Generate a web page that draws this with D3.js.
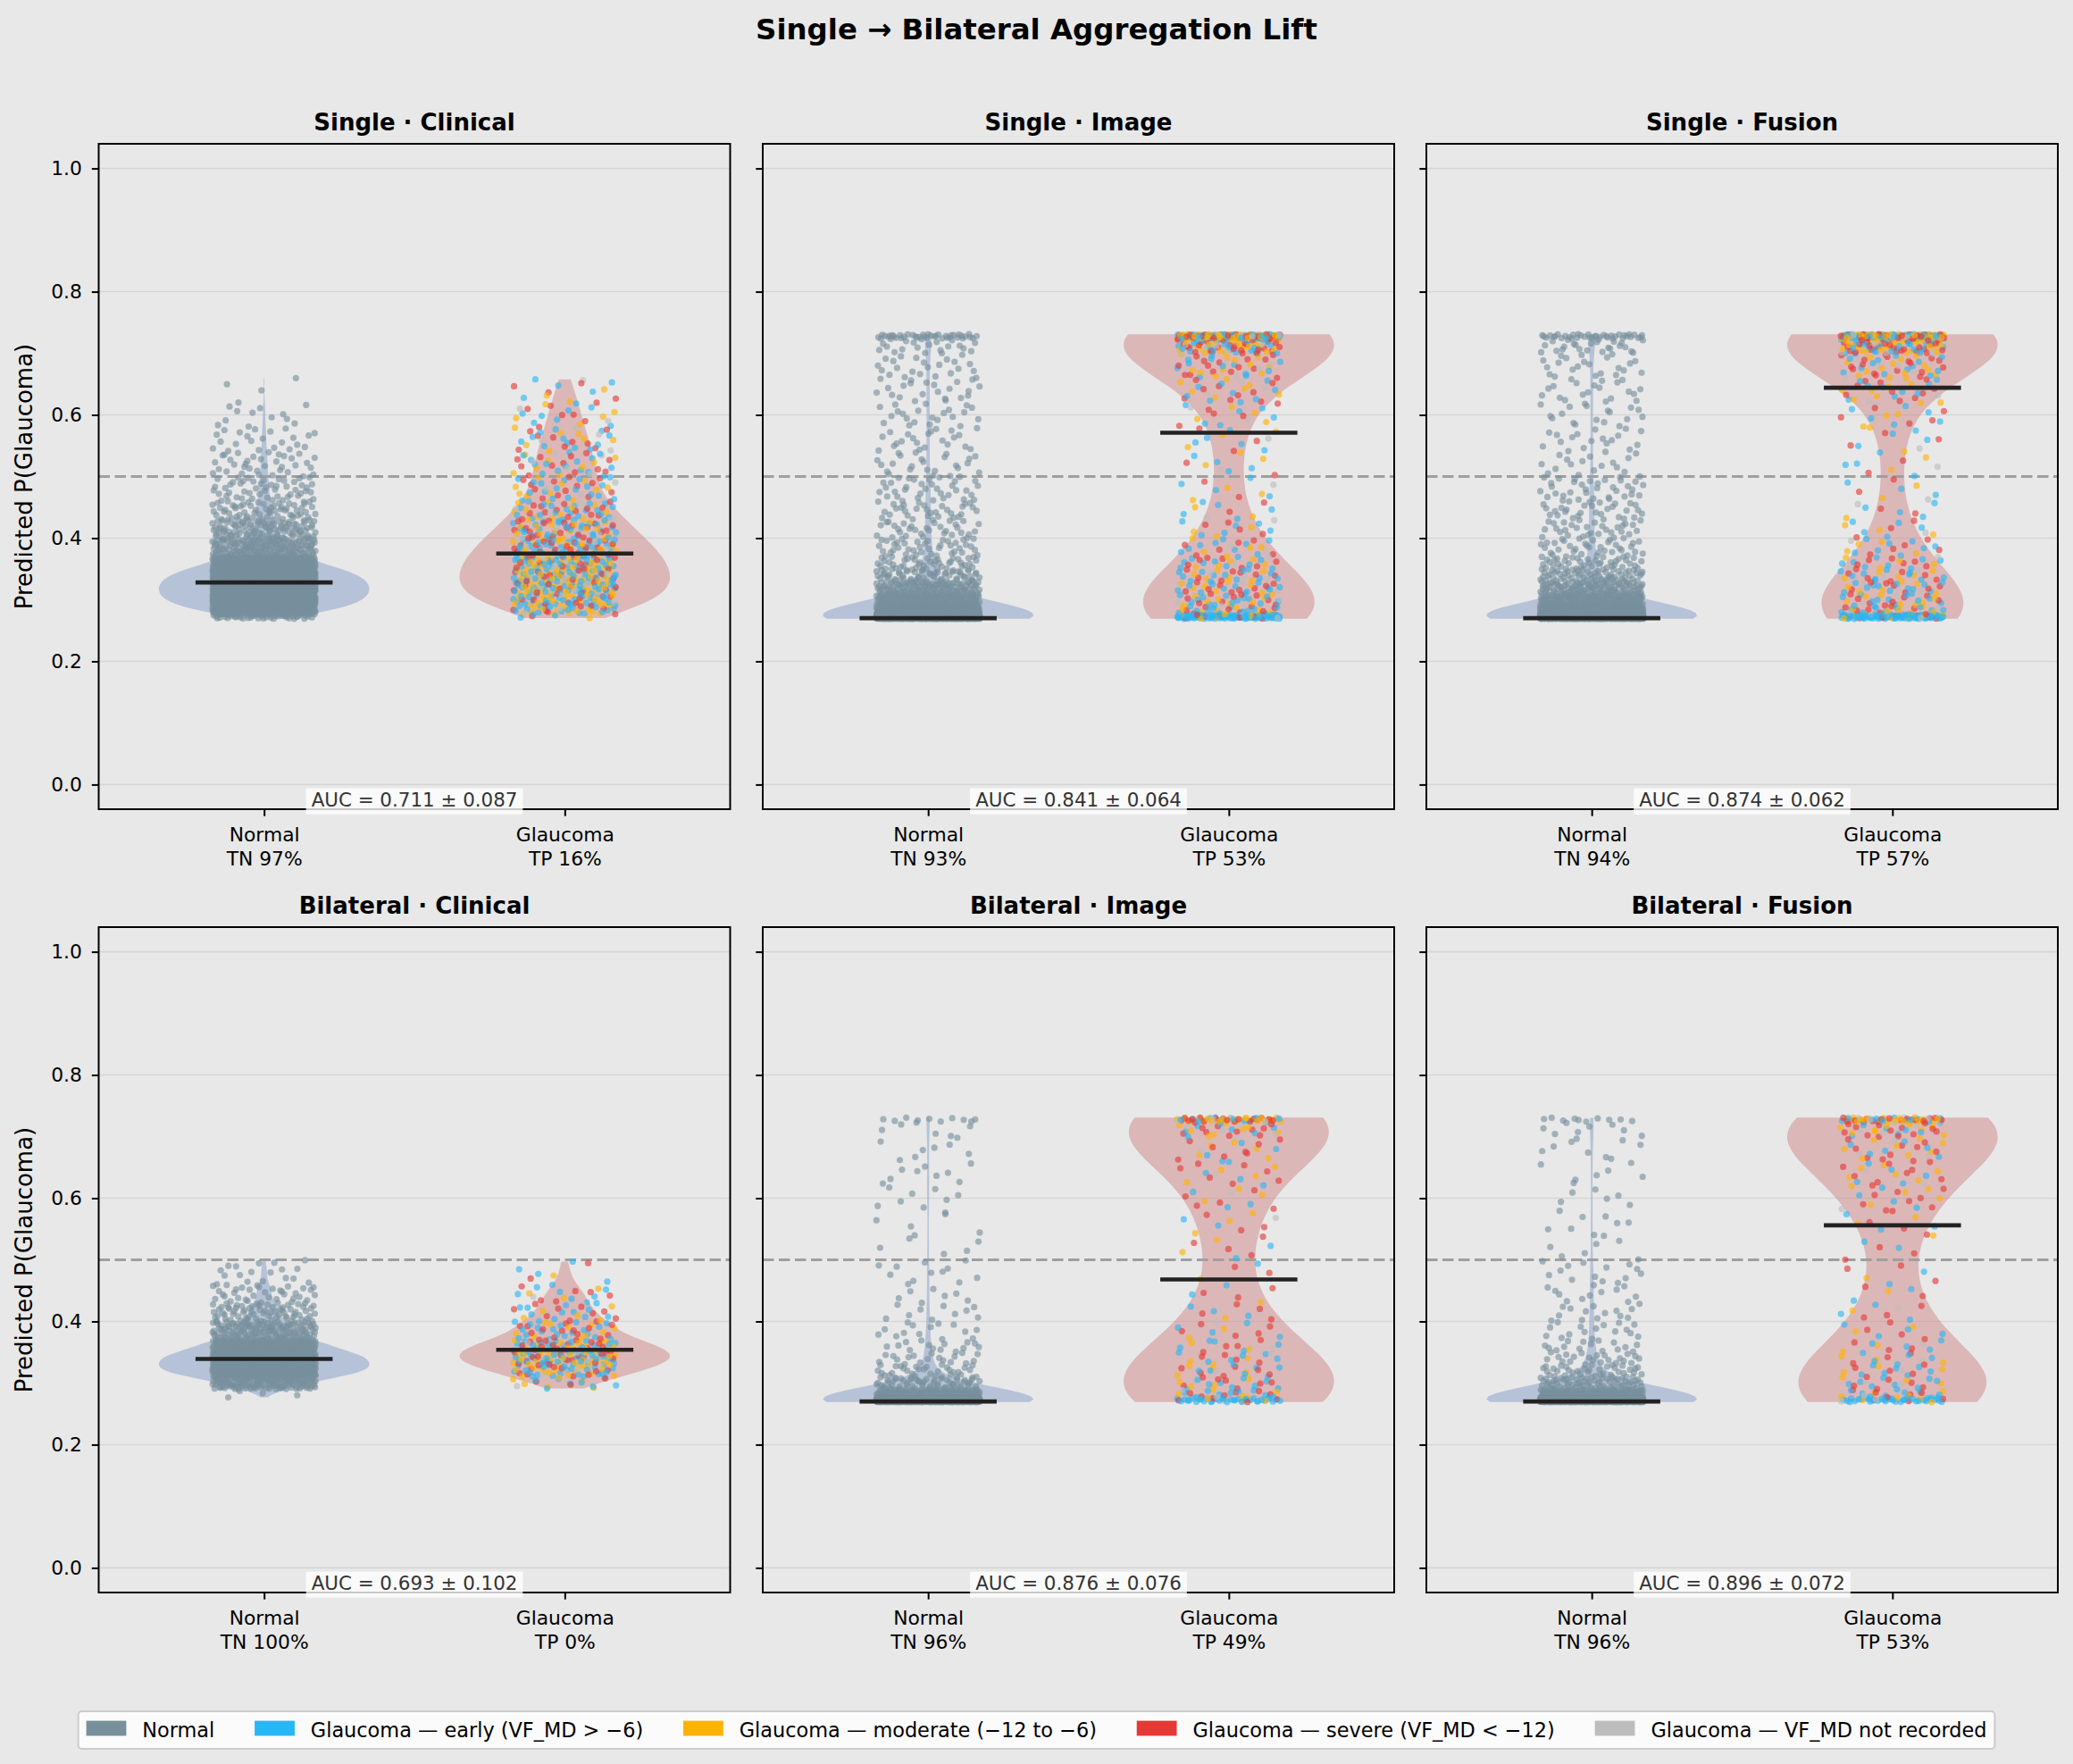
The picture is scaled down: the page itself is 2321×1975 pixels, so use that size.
<!DOCTYPE html>
<html>
<head>
<meta charset="utf-8">
<script src="https://cdn.jsdelivr.net/npm/d3@7"></script>
<style>
  body { margin: 0; background: #e8e8e8; }
  svg { display: block; font-family: "DejaVu Sans", sans-serif; }
</style>
</head>
<body>
<div id="chart"></div>
<script>
// Single -> Bilateral aggregation lift, violin + jittered points per panel

const FRAME_WIDTH = 2321;
const FRAME_HEIGHT = 1975;

// panel grid (pixels)
const COL_LEFT = [110.5, 854, 1597];
const ROW_TOP = [161, 1038];
const PANEL_W = 707;
const PANEL_H = 745;

const X_LIMITS = [-0.55, 1.55];
const Y_LIMITS = [-0.04, 1.04];

//###############################################################
// Data
//###############################################################

const SUPTITLE = "Single \u2192 Bilateral Aggregation Lift";
const PANEL_TITLES = ["Single \u00b7 Clinical", "Single \u00b7 Image", "Single \u00b7 Fusion",
                      "Bilateral \u00b7 Clinical", "Bilateral \u00b7 Image", "Bilateral \u00b7 Fusion"];
const CLASSES = ["Normal", "Glaucoma"];
const Y_TICKS = [0.0, 0.2, 0.4, 0.6, 0.8, 1.0];
const THRESHOLD = 0.5;

const TN_PCT = [97, 93, 94, 100, 96, 96];
const TP_PCT = [16, 53, 57, 0, 49, 53];
const AUC_MEAN = [0.711, 0.841, 0.874, 0.693, 0.876, 0.896];
const AUC_SD = [0.087, 0.064, 0.062, 0.102, 0.076, 0.072];

const MEDIAN_NORMAL = [0.328, 0.270, 0.270, 0.339, 0.270, 0.270];
const MEDIAN_GLAUCOMA = [0.375, 0.571, 0.644, 0.354, 0.468, 0.556];

// predicted-probability bins; first and last are the clip piles
const BIN_EDGES = [0.269, 0.276, 0.29, 0.31, 0.33, 0.35, 0.37, 0.40, 0.43, 0.46,
                   0.50, 0.54, 0.58, 0.62, 0.66, 0.70, 0.724, 0.731];

// estimated point counts per bin, one row per panel
const NORMAL_COUNTS = [
  [40, 260, 520, 540, 500, 280, 160, 100, 60, 50, 35, 22, 12, 4, 0, 0, 0],
  [1600, 280, 180, 110, 60, 40, 40, 32, 30, 35, 24, 22, 22, 22, 24, 20, 40],
  [1650, 270, 170, 100, 60, 40, 36, 30, 30, 34, 18, 18, 18, 20, 22, 24, 38],
  [0, 4, 140, 340, 340, 220, 140, 70, 35, 18, 0, 0, 0, 0, 0, 0, 0],
  [960, 130, 60, 30, 18, 14, 14, 10, 7, 12, 6, 5, 8, 9, 8, 6, 10],
  [920, 140, 65, 35, 22, 15, 16, 14, 12, 14, 7, 8, 6, 7, 9, 8, 10]
];
const EARLY_COUNTS = [
  [2, 17, 27, 31, 29, 29, 36, 28, 20, 18, 15, 12, 8, 5, 0, 0, 0],
  [96, 12, 14, 13, 12, 10, 9, 6, 5, 4, 4, 5, 6, 9, 13, 22, 48],
  [90, 11, 12, 12, 10, 8, 8, 5, 4, 3, 4, 4, 6, 9, 14, 24, 52],
  [0, 0, 8, 21, 30, 24, 20, 12, 8, 4, 0, 0, 0, 0, 0, 0, 0],
  [36, 9, 9, 7, 6, 5, 4, 3, 2, 1, 2, 2, 3, 4, 5, 7, 12],
  [34, 9, 8, 7, 5, 4, 4, 3, 2, 2, 2, 3, 4, 5, 6, 7, 12]
];
const MODERATE_COUNTS = [
  [1, 13, 21, 24, 22, 22, 20, 15, 11, 10, 8, 7, 5, 3, 0, 0, 0],
  [9, 7, 8, 7, 6, 5, 5, 3, 2, 3, 3, 3, 4, 7, 11, 20, 58],
  [9, 7, 7, 6, 5, 4, 4, 3, 1, 2, 2, 2, 4, 8, 13, 24, 62],
  [0, 0, 6, 15, 22, 15, 10, 5, 3, 1, 0, 0, 0, 0, 0, 0, 0],
  [3, 5, 4, 4, 3, 2, 2, 1, 1, 1, 2, 3, 3, 4, 5, 8, 26],
  [4, 4, 3, 3, 3, 2, 2, 1, 1, 1, 1, 2, 5, 6, 8, 10, 20]
];
const SEVERE_COUNTS = [
  [1, 6, 10, 12, 12, 12, 25, 20, 14, 13, 12, 9, 7, 4, 0, 0, 0],
  [8, 8, 9, 9, 7, 7, 6, 4, 2, 2, 2, 3, 5, 9, 16, 28, 42],
  [8, 7, 8, 7, 7, 6, 5, 3, 2, 2, 2, 3, 5, 10, 17, 30, 48],
  [0, 0, 3, 10, 16, 15, 15, 9, 6, 2, 0, 0, 0, 0, 0, 0, 0],
  [4, 6, 7, 6, 4, 4, 5, 4, 3, 2, 4, 3, 5, 7, 8, 11, 18],
  [3, 5, 5, 5, 3, 3, 4, 3, 2, 3, 3, 4, 8, 9, 11, 13, 16]
];
const UNRECORDED_COUNTS = [
  [0, 4, 7, 8, 7, 7, 9, 7, 5, 4, 5, 4, 2, 1, 0, 0, 0],
  [7, 3, 3, 3, 3, 2, 2, 1, 1, 1, 1, 1, 2, 3, 5, 10, 22],
  [7, 3, 3, 3, 2, 2, 1, 1, 1, 1, 1, 1, 2, 3, 6, 12, 24],
  [0, 0, 1, 4, 7, 6, 5, 2, 1, 0, 0, 0, 0, 0, 0, 0, 0],
  [3, 2, 2, 1, 1, 1, 1, 0, 0, 0, 0, 1, 1, 1, 2, 4, 8],
  [3, 2, 2, 1, 1, 1, 0, 1, 0, 0, 0, 0, 1, 2, 3, 4, 6]
];

const GROUPS = ["normal", "early", "moderate", "severe", "unrecorded"];
const LEGEND_LABELS = ["Normal",
                       "Glaucoma \u2014 early (VF_MD > \u22126)",
                       "Glaucoma \u2014 moderate (\u221212 to \u22126)",
                       "Glaucoma \u2014 severe (VF_MD < \u221212)",
                       "Glaucoma \u2014 VF_MD not recorded"];

// styles
const COLORS = {normal: "#78909c", early: "#29b6f6", moderate: "#ffb300",
                severe: "#e53935", unrecorded: "#bdbdbd"};
const VIOLIN_FILL = ["#8da3c9", "#cf8587"];
const VIOLIN_ALPHA = [0.55, 0.5];
const POINT_R = 3.6;
const POINT_ALPHA = 0.62;
const JITTER = 0.172;
const VIOLIN_HALF = 0.35;
const MEDIAN_HALF = 0.228;

//###############################################################
// helpers
//###############################################################

// van der Corput / Halton value, used to lay points out inside a bin
function halton(i, base) {
  let f = 1, r = 0;
  while (i > 0) {
    f /= base;
    r += f * (i % base);
    i = Math.floor(i / base);
  }
  return r;
}

function buildPoints(countRows, groupNames, seed) {
  const pts = [];
  for (let b = 0; b < BIN_EDGES.length - 1; b++) {
    const lo = BIN_EDGES[b], hi = BIN_EDGES[b + 1];
    let k = 0;
    countRows.forEach((row, gi) => {
      for (let j = 0; j < row[b]; j++) {
        const n = 1 + k + seed + b * 29;
        pts.push({ y: lo + (hi - lo) * halton(n, 2),
                   jit: halton(n, 3) * 2 - 1,
                   group: groupNames[gi] });
        k++;
      }
    });
  }
  // mix the drawing order
  return pts.map((d, i) => ({d: d, key: halton(i + 7, 5)}))
            .sort((a, b) => a.key - b.key)
            .map(o => o.d);
}

// gaussian KDE with Scott's bandwidth, 100 points from min to max
function violinProfile(values) {
  const n = values.length;
  const bw = d3.deviation(values) * Math.pow(n, -0.2);
  const [lo, hi] = d3.extent(values);
  const ys = d3.range(100).map(i => lo + (hi - lo) * i / 99);
  const dens = ys.map(y => d3.sum(values, v => Math.exp(-0.5 * ((y - v) / bw) ** 2)));
  const m = d3.max(dens);
  return ys.map((y, i) => [y, VIOLIN_HALF * dens[i] / m]);
}

//###############################################################
// frame
//###############################################################

const svg = d3.select("#chart")
              .append("svg")
                .attr("width", FRAME_WIDTH)
                .attr("height", FRAME_HEIGHT)
                .style("background", "#e8e8e8");

svg.append("text")
    .attr("x", FRAME_WIDTH / 2)
    .attr("y", 43.5)
    .attr("text-anchor", "middle")
    .attr("font-size", "32.4px")
    .attr("font-weight", "bold")
    .text(SUPTITLE);

function drawPanel(p) {
  const row = Math.floor(p / 3), col = p % 3;
  const left = COL_LEFT[col], top = ROW_TOP[row];

  const X_SCALE = d3.scaleLinear().domain(X_LIMITS).range([left, left + PANEL_W]);
  const Y_SCALE = d3.scaleLinear().domain(Y_LIMITS).range([top + PANEL_H, top]);

  const g = svg.append("g");

  // horizontal grid
  g.selectAll(".grid")
    .data(Y_TICKS)
    .enter()
    .append("line")
      .attr("x1", left).attr("x2", left + PANEL_W)
      .attr("y1", d => Y_SCALE(d)).attr("y2", d => Y_SCALE(d))
      .attr("stroke", "#d5d5d5")
      .attr("stroke-width", 1.6);

  const normalPts = buildPoints([NORMAL_COUNTS[p]], ["normal"], 3 + p * 101);
  const glaucPts = buildPoints([EARLY_COUNTS[p], MODERATE_COUNTS[p], SEVERE_COUNTS[p], UNRECORDED_COUNTS[p]],
                               ["early", "moderate", "severe", "unrecorded"], 17 + p * 53);
  const classPts = [normalPts, glaucPts];

  // violins
  classPts.forEach((pts, c) => {
    const prof = violinProfile(pts.map(d => d.y));
    const area = d3.area()
                   .y(d => Y_SCALE(d[0]))
                   .x0(d => X_SCALE(c - d[1]))
                   .x1(d => X_SCALE(c + d[1]));
    g.append("path")
      .datum(prof)
      .attr("d", area)
      .attr("fill", VIOLIN_FILL[c])
      .attr("fill-opacity", VIOLIN_ALPHA[c]);
  });

  // decision threshold
  g.append("line")
    .attr("x1", left).attr("x2", left + PANEL_W)
    .attr("y1", Y_SCALE(THRESHOLD)).attr("y2", Y_SCALE(THRESHOLD))
    .attr("stroke", "#9f9f9f")
    .attr("stroke-width", 3)
    .attr("stroke-dasharray", "12.5,5.5");

  // jittered points
  classPts.forEach((pts, c) => {
    g.append("g")
      .selectAll("circle")
      .data(pts)
      .enter()
      .append("circle")
        .attr("cx", d => X_SCALE(c + d.jit * JITTER))
        .attr("cy", d => Y_SCALE(d.y))
        .attr("r", POINT_R)
        .attr("fill", d => COLORS[d.group])
        .attr("fill-opacity", POINT_ALPHA);
  });

  // medians
  [MEDIAN_NORMAL[p], MEDIAN_GLAUCOMA[p]].forEach((m, c) => {
    g.append("line")
      .attr("x1", X_SCALE(c - MEDIAN_HALF)).attr("x2", X_SCALE(c + MEDIAN_HALF))
      .attr("y1", Y_SCALE(m)).attr("y2", Y_SCALE(m))
      .attr("stroke", "#222222")
      .attr("stroke-width", 4.6);
  });

  // frame
  g.append("rect")
    .attr("x", left).attr("y", top)
    .attr("width", PANEL_W).attr("height", PANEL_H)
    .attr("fill", "none")
    .attr("stroke", "#000")
    .attr("stroke-width", 2);

  // y axis (labels only on the first column)
  const yAxis = g.append("g")
    .attr("transform", "translate(" + left + ",0)")
    .call(d3.axisLeft(Y_SCALE)
            .tickValues(Y_TICKS)
            .tickSize(7.7)
            .tickPadding(11)
            .tickFormat(col === 0 ? d3.format(".1f") : ""));
  yAxis.select(".domain").remove();
  yAxis.selectAll(".tick line").attr("stroke", "#000").attr("stroke-width", 2);
  yAxis.selectAll(".tick text")
    .attr("font-size", "21.8px")
    .attr("font-family", "DejaVu Sans")
    .attr("fill", "#000");
  yAxis.attr("font-size", null).attr("font-family", null);

  // x axis with two-line labels
  const xLabels = [["Normal", "TN " + TN_PCT[p] + "%"], ["Glaucoma", "TP " + TP_PCT[p] + "%"]];
  const xAxis = g.append("g")
    .attr("transform", "translate(0," + (top + PANEL_H) + ")")
    .call(d3.axisBottom(X_SCALE).tickValues([0, 1]).tickSize(7.7).tickFormat(""));
  xAxis.select(".domain").remove();
  xAxis.selectAll(".tick line").attr("stroke", "#000").attr("stroke-width", 2);
  xAxis.selectAll(".tick text").remove();
  xAxis.selectAll(".tick")
    .append("text")
      .attr("text-anchor", "middle")
      .attr("font-size", "21.8px")
      .attr("font-family", "DejaVu Sans")
      .attr("fill", "#000")
      .each(function(d) {
        const t = d3.select(this);
        xLabels[d].forEach((line, li) => {
          t.append("tspan").attr("x", 0).attr("y", 36.2 + li * 26.7).text(line);
        });
      });

  // AUC annotation
  const aucText = g.append("text")
    .attr("x", left + PANEL_W / 2)
    .attr("y", top + PANEL_H - 2.8)
    .attr("text-anchor", "middle")
    .attr("font-size", "21.4px")
    .attr("fill", "#333333")
    .text("AUC = " + AUC_MEAN[p].toFixed(3) + " \u00b1 " + AUC_SD[p].toFixed(3));
  const tw = aucText.node().getComputedTextLength();
  g.insert("rect", function() { return aucText.node(); })
    .attr("x", left + PANEL_W / 2 - tw / 2 - 6)
    .attr("y", top + PANEL_H - 2.8 - 20.6)
    .attr("width", tw + 12)
    .attr("height", 29)
    .attr("fill", "#ffffff")
    .attr("fill-opacity", 0.78);

  // panel title
  g.append("text")
    .attr("x", left + PANEL_W / 2)
    .attr("y", top - 15)
    .attr("text-anchor", "middle")
    .attr("font-size", "26px")
    .attr("font-weight", "bold")
    .text(PANEL_TITLES[p]);
}

PANEL_TITLES.forEach((t, p) => drawPanel(p));

// y labels, one per row
ROW_TOP.forEach(top => {
  svg.append("text")
    .attr("transform", "translate(35.5," + (top + PANEL_H / 2) + ") rotate(-90)")
    .attr("text-anchor", "middle")
    .attr("font-size", "26px")
    .text("Predicted P(Glaucoma)");
});

//###############################################################
// legend (sizes in em of the legend font, matplotlib style)
//###############################################################

const LEG_FONT = 22.4;
const PATCH_W = 2.0 * LEG_FONT, PATCH_H = 0.75 * LEG_FONT;
const TEXT_PAD = 0.8 * LEG_FONT, COL_SPACE = 2.0 * LEG_FONT, BORDER_PAD = 0.4 * LEG_FONT;
const LEG_CY = 1937;
const legend = svg.append("g");
const legTexts = LEGEND_LABELS.map(label =>
  legend.append("text")
    .attr("font-size", LEG_FONT + "px")
    .attr("y", LEG_CY + 7.8)
    .text(label));
const widths = legTexts.map(t => t.node().getComputedTextLength());
const total = d3.sum(widths) + LEGEND_LABELS.length * (PATCH_W + TEXT_PAD) + (LEGEND_LABELS.length - 1) * COL_SPACE;
let cursor = FRAME_WIDTH / 2 - total / 2;

legend.insert("rect", "text")
  .attr("x", cursor - BORDER_PAD).attr("y", LEG_CY - 21)
  .attr("width", total + 2 * BORDER_PAD).attr("height", 42)
  .attr("rx", 4)
  .attr("fill", "#ffffff").attr("fill-opacity", 0.8)
  .attr("stroke", "#cccccc").attr("stroke-width", 2);

LEGEND_LABELS.forEach((label, i) => {
  legend.append("rect")
    .attr("x", cursor).attr("y", LEG_CY - 2 - PATCH_H / 2)
    .attr("width", PATCH_W).attr("height", PATCH_H)
    .attr("fill", COLORS[GROUPS[i]]);
  legTexts[i].attr("x", cursor + PATCH_W + TEXT_PAD);
  cursor += PATCH_W + TEXT_PAD + widths[i] + COL_SPACE;
});
</script>
</body>
</html>
